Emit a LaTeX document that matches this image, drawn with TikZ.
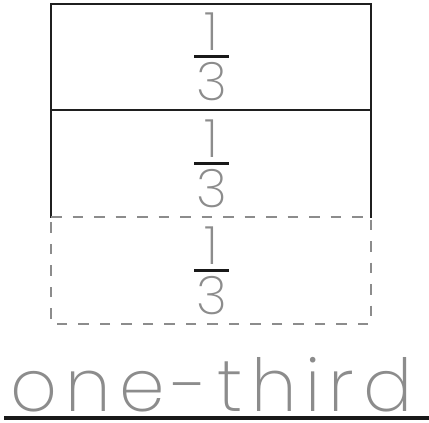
\documentclass[tikz,border=0pt]{standalone}
\usepackage{fontspec}
\newfontfamily\tracefont{Poppins}[UprightFont=* ExtraLight]
\begin{document}
\begin{tikzpicture}[x=1pt,y=-1pt,
  frameline/.style={line width=2pt, draw=black!88, line cap=rect},
  cutline/.style={line width=2pt, draw=black!45, dash pattern=on 10.5pt off 11pt},
  barline/.style={line width=3pt, draw=black!90},
  ruleline/.style={line width=4pt, draw=black!90},
  digit/.style={inner sep=0pt, anchor=base, text=black!45,
    font=\tracefont\fontsize{53}{53}\selectfont},
  word/.style={inner sep=0pt, anchor=base west, text=black!45,
    font=\tracefont\fontsize{73}{73}\selectfont\addfontfeature{LetterSpace=11.6}}
]
\useasboundingbox (0,0) rectangle (429,423);

% corners of the three stacked thirds
\coordinate (tl) at (51,4);
\coordinate (tr) at (371,4);
\coordinate (ml) at (51,110);
\coordinate (mr) at (371,110);
\coordinate (ll) at (51,217);
\coordinate (lr) at (371,217);
\coordinate (bl) at (51,324);
\coordinate (br) at (371,324);

% the two solid thirds
\draw[frameline] (ll) -- (tl) -- (tr) -- (lr);
\draw[frameline] (ml) -- (mr);
% the removed third, dashed
\draw[cutline] (ll) -- (lr) -- (br) -- (bl) -- cycle;

% one fraction 1/3 in each third
\foreach \k/\dy in {a/0, b/107, c/214} {
  \node[digit] (num\k) at (211.5,50+\dy) {1};
  \coordinate (barl\k) at (194,56.5+\dy);
  \coordinate (barr\k) at (229,56.5+\dy);
  \draw[barline] (barl\k) -- (barr\k);
  \node[digit] (den\k) at (211.5,100+\dy) {3};
}

% the word and its writing line
\node[word] (name) at (10,411) {one-third};
\coordinate (rulel) at (4,418);
\coordinate (ruler) at (429,418);
\draw[ruleline] (rulel) -- (ruler);
\end{tikzpicture}
\end{document}
